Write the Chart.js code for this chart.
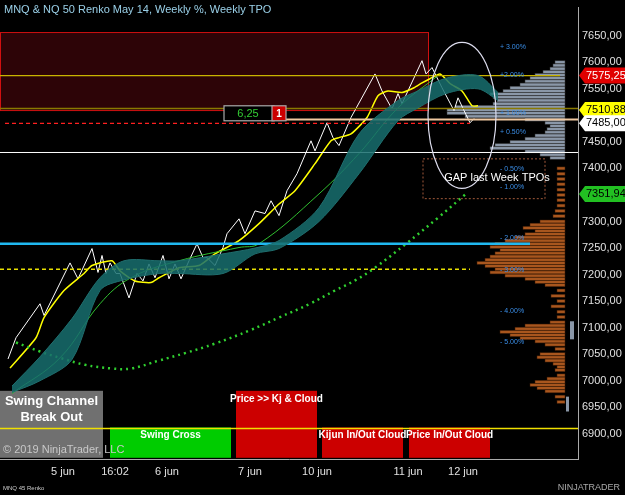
<!DOCTYPE html>
<html><head><meta charset="utf-8">
<script src="https://cdn.jsdelivr.net/npm/chart.js@4"></script>
<style>html,body{margin:0;padding:0;background:#000}#w{width:625px;height:495px}</style>
</head><body><div id="w"><canvas id="c"></canvas></div>
<script>
// ---- data ----
const renkoX=[8,16,40,44,70,78,92,98,102,106,110,116,120,129,137,143,149,155,163,169,175,181,189,197,203,207,215,223,227,239,245,255,265,271,279,287,297,311,315,327,333,339,351,375,382,392,398,402,422,426,432,442,454,458,464,470,474];
const renkoY=[7041,7081,7145,7123,7222,7192,7249,7204,7236,7202,7222,7202,7202,7156,7202,7188,7220,7194,7236,7192,7220,7192,7226,7258,7232,7232,7217,7251,7277,7305,7277,7320,7315,7339,7311,7358,7390,7452,7433,7486,7458,7443,7496,7578,7546,7512,7541,7522,7603,7578,7590,7552,7509,7533,7509,7486,7494];
const fastX=[10,36,44,64,84,92,112,120,135,151,159,179,199,215,239,259,279,295,315,331,339,351,367,378,388,402,414,422,430,440,450,462,472,478];
const fastY=[7024,7081,7119,7170,7202,7217,7226,7207,7188,7185,7194,7213,7217,7239,7264,7296,7333,7358,7409,7452,7458,7465,7496,7537,7546,7543,7552,7561,7569,7578,7560,7546,7518,7518];
const kijunX=[12,60,100,131,179,239,259,319,359,398,438];
const kijunY=[6976,7043,7145,7194,7226,7251,7258,7352,7428,7514,7575];
const cloudX=[12,40,72,100,124,159,179,223,255,279,319,359,398,418,446,478,498];
const cloudTop=[6990,7045,7117,7194,7226,7226,7226,7239,7250,7264,7326,7465,7528,7546,7570,7575,7543];
const cloudBot=[6978,7000,7040,7170,7190,7202,7202,7202,7239,7249,7300,7390,7490,7514,7541,7550,7528];
const arcX=[16,40,60,85,112,131,159,185,215,250,279,310,335,356,375,406,438,466];
const arcY=[7072,7055,7043,7030,7023,7023,7038,7052,7070,7095,7119,7145,7170,7190,7213,7258,7307,7352];
const tickPos=[63,115,167,250,317,408,463];
const tickLabels=['5 jun','16:02','6 jun','7 jun','10 jun','11 jun','12 jun'];
const yTicks=[6900,6950,7000,7050,7100,7150,7200,7250,7300,7350,7400,7450,7500,7550,7600,7650];
const tpoGrayLv=[7600,7594,7588,7582,7576,7570,7564,7558,7552,7546,7540,7534,7528,7522,7516,7510,7504,7498,7492,7486,7480,7474,7468,7462,7456,7450,7444,7438,7432,7426,7420];
const tpoGrayW=[10,12,15,22,30,35,40,45,55,62,75,72,68,72,110,118,118,100,40,20,15,18,20,30,40,55,70,75,40,25,15];
const tpoBrownLv=[7400,7390,7380,7370,7360,7350,7340,7330,7320,7310,7300,7294,7288,7282,7276,7270,7264,7258,7252,7246,7240,7234,7228,7222,7216,7210,7204,7198,7192,7186,7180,7170,7160,7150,7140,7130,7120,7110,7104,7098,7092,7086,7080,7074,7068,7060,7050,7044,7038,7032,7026,7020,7010,7004,6998,6992,6986,6980,6970,6960];
const tpoBrownW=[8,8,8,8,8,8,8,8,10,12,25,35,42,30,40,50,60,70,75,65,70,75,80,88,80,70,75,60,40,30,20,8,14,8,14,8,8,15,40,50,65,55,45,30,20,10,25,28,20,12,8,10,8,18,30,35,28,20,10,8];
const priceTags=[['7575,25',7575,'#e00000','#fff'],['7510,88',7510,'#ffff00','#000'],['7485,00',7485,'#ffffff','#000'],['7351,94',7352,'#22c022','#000']];
const pctLabels=[['+ 3.00%',7628],['+2.00%',7575],['+ 1.00%',7504],['+ 0.50%',7468],['- 0.50%',7398],['- 1.00%',7365],['- 2.00%',7268],['- 3.00%',7208],['- 4.00%',7132],['- 5.00%',7072]];
const boxes=[[0,103,6981,'#707070','Swing Channel|Break Out',true],[110,231,6912,'#00cc00','Swing Cross',false],[236,317,6981,'#cc0000','Price >> Kj & Cloud',false],[322,403,6912,'#cc0000','Kijun In/Out Cloud',false],[409,490,6912,'#cc0000','Price In/Out Cloud',false]];

const AX='"Liberation Sans",sans-serif';
const pts=(xs,ys)=>xs.map((x,i)=>({x:x,y:ys[i]}));
const hl=(x0,x1,y,color,w,dash)=>({data:[{x:x0,y:y},{x:x1,y:y}],borderColor:color,borderWidth:w,borderDash:dash||[],pointRadius:0,fill:false});

const bg={id:'bg',beforeDraw(c){const g=c.ctx;g.save();g.fillStyle='#000';g.fillRect(0,0,c.width,c.height);g.restore();},
beforeDatasetsDraw(c){const g=c.ctx,x=c.scales.x,y=c.scales.y,a=c.chartArea;g.save();
 g.fillStyle='rgba(60,5,10,0.75)';g.strokeStyle='#d01010';g.lineWidth=1;
 let x0=x.getPixelForValue(0),x1=x.getPixelForValue(428),y0=y.getPixelForValue(7656),y1=y.getPixelForValue(7509);
 g.fillRect(x0,y0,x1-x0,y1-y0);g.strokeRect(x0+0.5,y0,x1-x0,y1-y0);
 g.setLineDash([2,2]);g.strokeStyle='#a0583a';x0=x.getPixelForValue(423);x1=x.getPixelForValue(545);y0=y.getPixelForValue(7418);y1=y.getPixelForValue(7343);g.strokeRect(x0,y0,x1-x0,y1-y0);g.setLineDash([]);
 const bar=(lv,w,col,edge)=>{lv.forEach((v,i)=>{const r=x.getPixelForValue(565),l=x.getPixelForValue(565-w[i]);const t=y.getPixelForValue(v+2.8),b=y.getPixelForValue(v-2.8);g.fillStyle=col;g.fillRect(l,t,r-l,b-t);g.strokeStyle=edge;g.lineWidth=0.5;g.strokeRect(l,t,r-l,b-t);});};
 bar(tpoGrayLv,tpoGrayW,'#8a97a8','#333');bar(tpoBrownLv,tpoBrownW,'#a8561e','#3a1a05');
 g.fillStyle='#8a97a8';g.fillRect(x.getPixelForValue(570),y.getPixelForValue(7112),4,y.getPixelForValue(7078)-y.getPixelForValue(7112));
 g.fillRect(x.getPixelForValue(566),y.getPixelForValue(6970),3,y.getPixelForValue(6942)-y.getPixelForValue(6970));
 boxes.forEach(b=>{const l=x.getPixelForValue(b[0]),r=x.getPixelForValue(b[1]),t=y.getPixelForValue(b[2]),bt=a.bottom-2;g.fillStyle=b[3];g.fillRect(l,t,r-l,bt-t);
  g.fillStyle='#fff';g.textAlign='center';g.textBaseline='top';
  if(b[5]){g.font='bold 13px "Liberation Sans"';const s=b[4].split('|');s.forEach((t2,k)=>g.fillText(t2,(l+r)/2,t+4+k*16));}
  else{g.font='bold 10px "Liberation Sans"';g.fillText(b[4],(l+r)/2,t+3);}});
 g.restore();},
afterDatasetsDraw(c){const g=c.ctx,x=c.scales.x,y=c.scales.y,a=c.chartArea;g.save();
 g.strokeStyle='#dde';g.lineWidth=1.2;g.beginPath();g.ellipse(x.getPixelForValue(462),y.getPixelForValue(7500),34,73,0,0,Math.PI*2);g.stroke();
 g.fillStyle='#fff';g.font='11px "Liberation Sans"';g.textAlign='center';g.textBaseline='middle';g.fillText('GAP last Week TPOs',x.getPixelForValue(497),y.getPixelForValue(7382));
 const bx=x.getPixelForValue(224),by=y.getPixelForValue(7518);g.fillStyle='#000';g.strokeStyle='#aaa';g.fillRect(bx,by,50,15);g.strokeRect(bx,by,50,15);g.fillStyle='#33cc33';g.fillText('6,25',bx+24,by+8);
 g.fillStyle='#cc0000';g.fillRect(bx+48,by,14,15);g.strokeRect(bx+48,by,14,15);g.fillStyle='#fff';g.font='bold 10px "Liberation Sans"';g.fillText('1',bx+55,by+8);
 g.font='7px "Liberation Sans"';g.textAlign='left';pctLabels.forEach(p=>{g.fillStyle='#3a8ee8';g.fillText(p[0],x.getPixelForValue(500),y.getPixelForValue(p[1]));});
 g.font='11px '+AX;priceTags.forEach(p=>{const py=y.getPixelForValue(p[1]);g.fillStyle=p[2];g.beginPath();g.moveTo(a.right+1,py);g.lineTo(a.right+7,py-8);g.lineTo(625,py-8);g.lineTo(625,py+8);g.lineTo(a.right+7,py+8);g.closePath();g.fill();g.fillStyle=p[3];g.textAlign='left';g.fillText(p[0],a.right+8,py);});
 g.textAlign='left';g.fillStyle='#9ad0e8';g.font='11px "Liberation Sans"';g.fillText('MNQ & NQ 50 Renko May 14, Weekly %, Weekly TPO',4,10);
 g.fillStyle='#c8c8c8';g.font='11px "Liberation Sans"';g.fillText('© 2019 NinjaTrader, LLC',3,450);
 g.font='6px "Liberation Sans"';g.fillStyle='#ccc';g.fillText('MNQ 45 Renko',3,488);
 g.font='9px "Liberation Sans"';g.fillStyle='#aaa';g.textAlign='right';g.fillText('NINJATRADER',620,488);
 g.restore();}};

new Chart(document.getElementById('c'),{type:'line',
 data:{datasets:[
  {data:pts(cloudX,cloudTop),borderColor:'#1f6d6d',borderWidth:1,backgroundColor:'rgba(24,110,110,0.85)',pointRadius:0,fill:false,tension:0.3},
  {data:pts(cloudX,cloudBot),borderColor:'#1f6d6d',borderWidth:1,backgroundColor:'rgba(24,110,110,0.85)',pointRadius:0,fill:'-1',tension:0.3},
  hl(0,560,7575,'#c8b400',1.3),hl(0,578,7513,'#8a7a00',1.5),hl(240,578,7492,'#f0c8a0',2),hl(5,470,7485,'#ff2020',1.3,[4,3]),
  hl(0,578,7430,'#ffffff',1),hl(0,530,7258,'#20b8f0',2.5),hl(0,470,7210,'#e8e000',1.3,[4,3]),hl(0,578,6910,'#f0e000',1.5),
  {data:pts(arcX,arcY),borderColor:'#30d030',borderWidth:2.5,borderDash:[2,4],pointRadius:0,fill:false,tension:0.4},
  {data:pts(kijunX,kijunY),borderColor:'#30c030',borderWidth:1,pointRadius:0,fill:false,tension:0.4},
  {data:pts(fastX,fastY),borderColor:'#ffff00',borderWidth:1.5,pointRadius:0,fill:false,tension:0.2},
  {data:pts(renkoX,renkoY),borderColor:'#ffffff',borderWidth:1,pointRadius:0,fill:false,tension:0}
 ]},
 options:{responsive:true,maintainAspectRatio:false,animation:false,events:[],
  layout:{padding:{left:0,right:0,top:0,bottom:14}},
  plugins:{legend:{display:false},tooltip:{enabled:false}},
  scales:{
   x:{type:'linear',min:0,max:578,grid:{display:false,tickLength:4},border:{color:'#aaa'},
      afterBuildTicks:s=>{s.ticks=tickPos.map(v=>({value:v}));},
      ticks:{color:'#e0e0e0',font:{size:11,family:'Liberation Sans'},padding:2,callback:(v)=>{const i=tickPos.indexOf(v);return i>=0?tickLabels[i]:'';}}},
   y:{position:'right',min:6851,max:7703,grid:{display:false,tickLength:3},border:{color:'#aaa'},afterFit:s=>{s.width=47;},
      afterBuildTicks:s=>{s.ticks=yTicks.map(v=>({value:v}));},
      ticks:{color:'#e0e0e0',font:{size:11,family:AX},padding:1,callback:v=>v.toFixed(2).replace('.',',')}}
  }},
 plugins:[bg]});
</script></body></html>
